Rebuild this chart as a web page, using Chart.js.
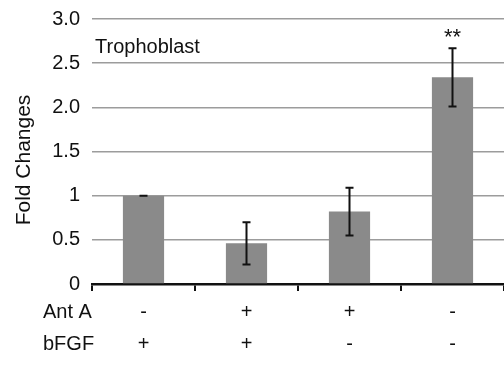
<!DOCTYPE html>
<html>
<head>
<meta charset="utf-8">
<script src="https://cdn.jsdelivr.net/npm/chart.js@4/dist/chart.umd.min.js"></script>
<style>
  html, body { margin: 0; padding: 0; background: #fff; }
  #wrap { width: 504px; height: 371px; position: relative; }
</style>
</head>
<body>
<div id="wrap"><canvas id="chart"></canvas></div>
<script>
const antA = ['-', '+', '+', '-'];
const bFGF = ['+', '+', '-', '-'];
const foldChanges = [1.0, 0.46, 0.82, 2.34];
const errors = [0, 0.24, 0.27, 0.33];
const yTickLabels = { 0: '0', 0.5: '0.5', 1: '1', 1.5: '1.5', 2: '2.0', 2.5: '2.5', 3: '3.0' };
const rowNames = ['Ant A', 'bFGF'];
const stars = ['', '', '', '**'];

const FONT = '"Liberation Sans", Arial, Helvetica, sans-serif';
const TICK_LEN = 7, TICK_PAD = 5, LINE_H = 32;

const extras = {
  id: 'extras',
  afterDatasetsDraw(chart) {
    const { ctx, chartArea } = chart;
    const x = chart.scales.x, y = chart.scales.y;
    ctx.save();
    // error bars
    ctx.strokeStyle = '#111';
    ctx.lineWidth = 2;
    foldChanges.forEach((v, i) => {
      const cx = x.getPixelForValue(i);
      const top = y.getPixelForValue(v + errors[i]);
      const bot = y.getPixelForValue(v - errors[i]);
      ctx.beginPath();
      ctx.moveTo(cx, top); ctx.lineTo(cx, bot);
      ctx.moveTo(cx - 4, top); ctx.lineTo(cx + 4, top);
      ctx.moveTo(cx - 4, bot); ctx.lineTo(cx + 4, bot);
      ctx.stroke();
      if (stars[i]) {
        ctx.fillStyle = '#111';
        ctx.font = '22px ' + FONT;
        ctx.textAlign = 'center';
        ctx.textBaseline = 'middle';
        ctx.fillText(stars[i], cx, top - 10);
      }
    });
    // panel label
    ctx.fillStyle = '#111';
    ctx.font = '20px ' + FONT;
    ctx.textAlign = 'left';
    ctx.textBaseline = 'alphabetic';
    ctx.fillText('Trophoblast', chartArea.left + 3, 53);
    // row headers for the condition table
    ctx.textBaseline = 'middle';
    rowNames.forEach((name, r) => {
      ctx.fillText(name, 43, x.top + TICK_LEN + TICK_PAD + LINE_H / 2 + r * LINE_H);
    });
    // y axis title
    ctx.font = '21px ' + FONT;
    ctx.translate(24, 160);
    ctx.rotate(-Math.PI / 2);
    ctx.textAlign = 'center';
    ctx.fillText('Fold Changes', 0, 0);
    ctx.restore();
  }
};

new Chart(document.getElementById('chart'), {
  type: 'bar',
  data: {
    labels: antA.map((a, i) => [a, bFGF[i]]),
    datasets: [{
      data: foldChanges,
      backgroundColor: '#8a8a8a',
      borderWidth: 0,
      barPercentage: 0.4,
      categoryPercentage: 1.0,
    }]
  },
  options: {
    responsive: true, maintainAspectRatio: false, animation: false,
    layout: { padding: { top: 19, right: 0, bottom: 0, left: 0 } },
    plugins: { legend: { display: false }, tooltip: { enabled: false } },
    scales: {
      x: {
        afterFit: s => { s.height = 87; },
        grid: { display: true, drawOnChartArea: false, drawTicks: true, tickLength: TICK_LEN, color: '#111', lineWidth: 2 },
        border: { display: true, color: '#111', width: 2.5 },
        ticks: { color: '#111', padding: TICK_PAD, font: { family: FONT, size: 20, lineHeight: LINE_H + 'px' } },
      },
      y: {
        min: 0, max: 3,
        afterFit: s => { s.width = 92; s.paddingTop = 0; s.paddingBottom = 0; },
        border: { display: false },
        grid: { color: '#9c9c9c', lineWidth: 1.5, drawTicks: false },
        ticks: {
          stepSize: 0.5, padding: 12, color: '#111',
          font: { family: FONT, size: 20 },
          callback: v => yTickLabels[v] ?? ''
        },
      }
    }
  },
  plugins: [extras]
});
</script>
</body>
</html>
